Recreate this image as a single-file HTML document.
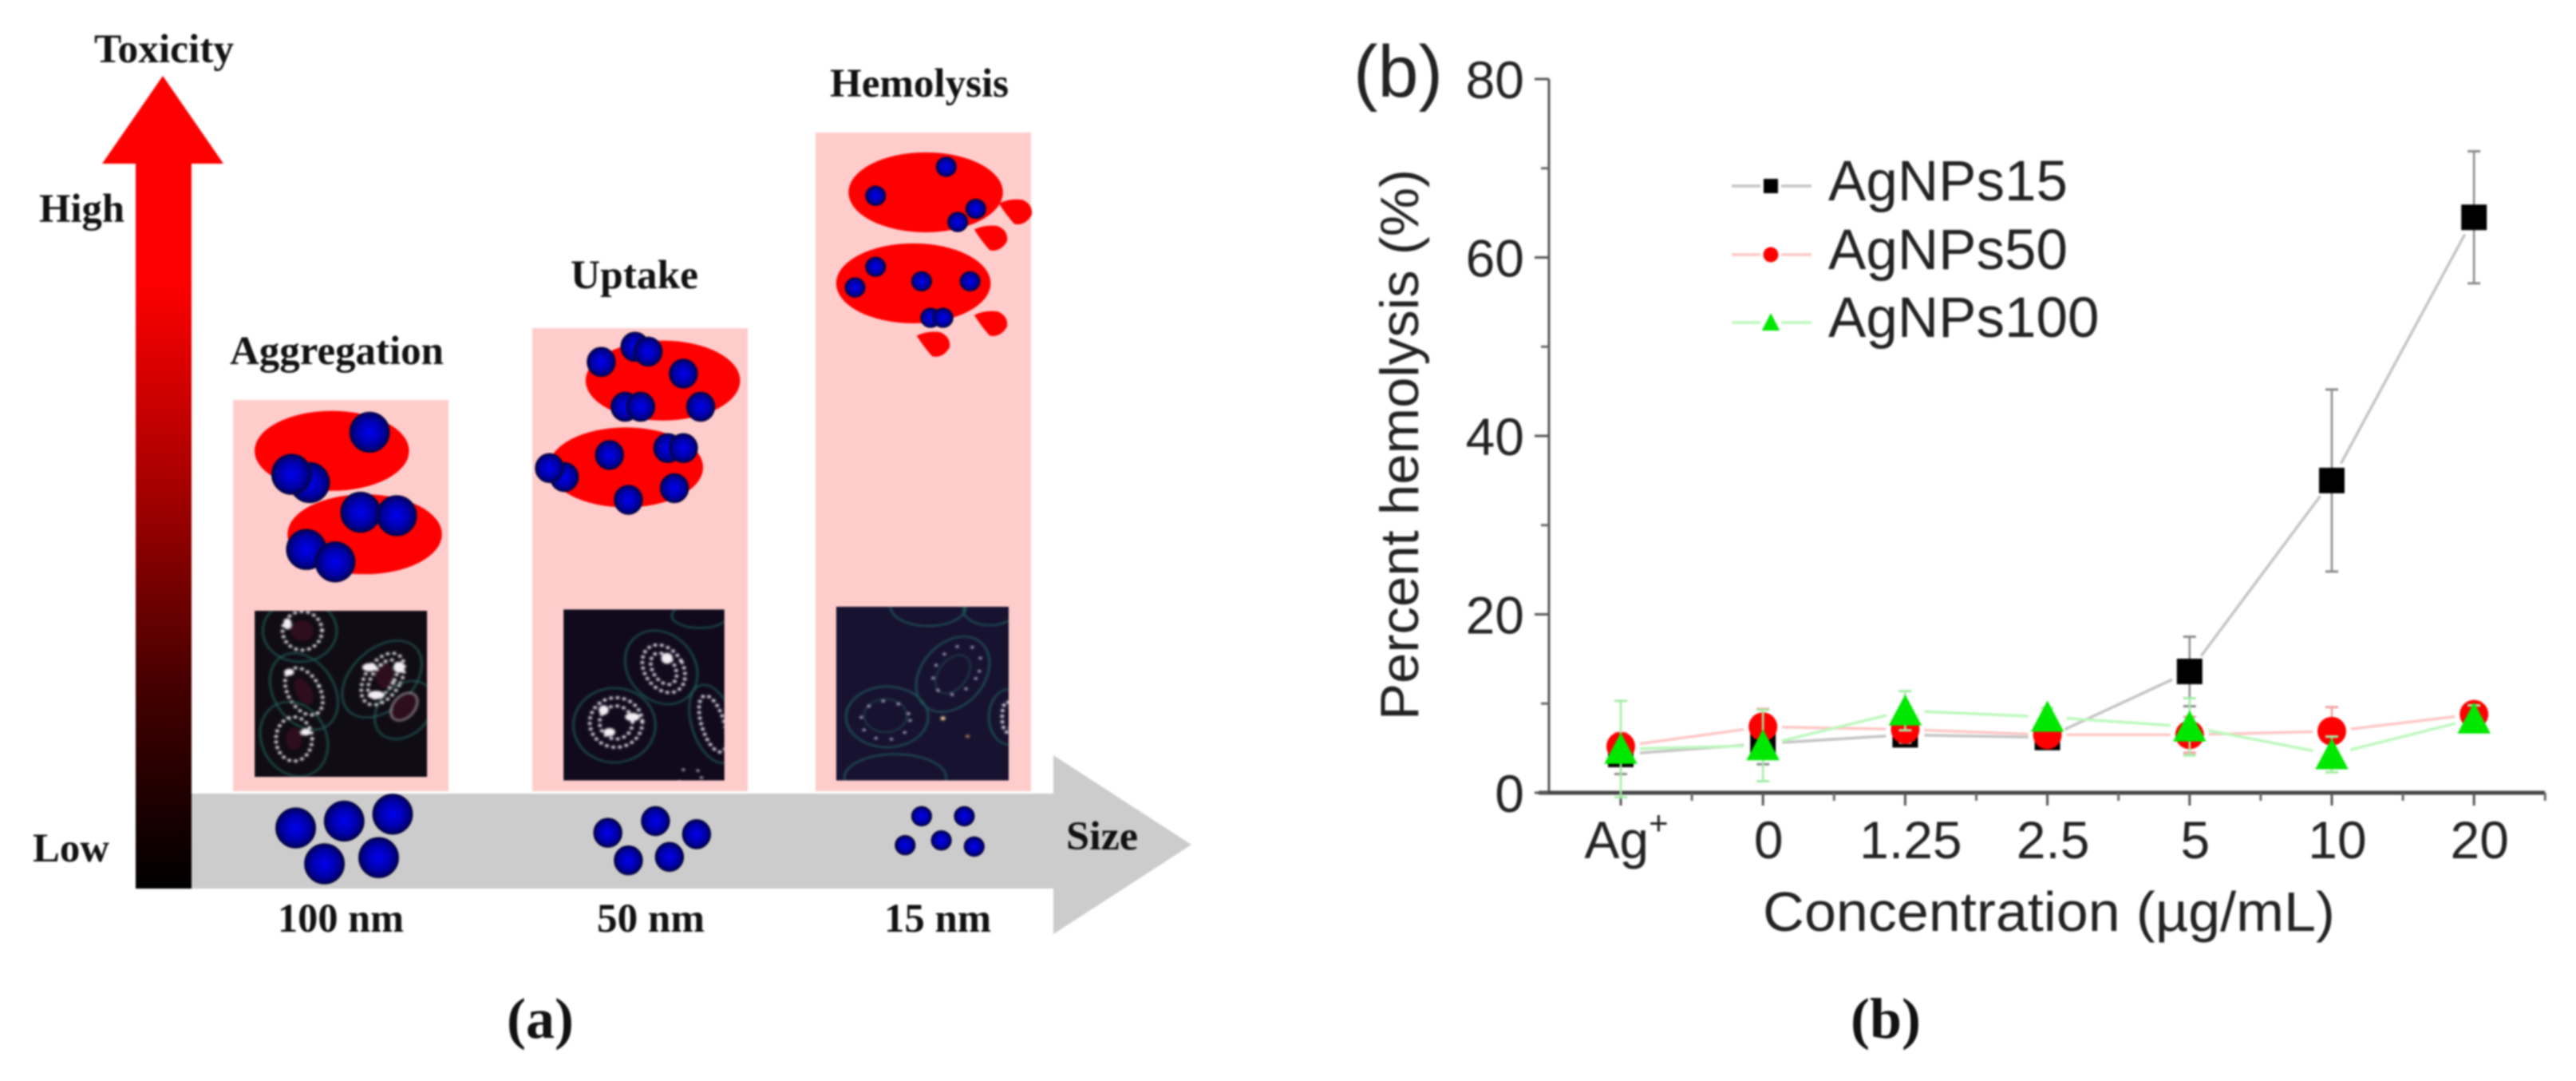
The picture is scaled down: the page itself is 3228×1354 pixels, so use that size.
<!DOCTYPE html>
<html lang="en">
<head>
<meta charset="utf-8">
<title>Silver nanoparticle toxicity and hemolysis</title>
<style>
html,body{margin:0;padding:0;background:#fff;}
svg#figure{display:block;width:3228px;height:1354px;filter:blur(1.1px);}
.lbl{font-family:"Liberation Serif",serif;font-weight:bold;fill:#111;font-size:51px;}
.cap{font-family:"Liberation Serif",serif;font-weight:bold;fill:#111;font-size:72px;text-anchor:middle;}
.sans{font-family:"Liberation Sans",sans-serif;fill:#222;}
.b{rx:24px;ry:29px;fill:url(#sphere);stroke:#0a0a3a;stroke-width:1.5;}
.m{rx:17px;ry:21px;fill:url(#sphere);stroke:#0a0a3a;stroke-width:1.5;}
.t{rx:12px;ry:14px;fill:url(#sphere);stroke:#0a0a3a;stroke-width:1.5;}
.rbc{fill:#ff0000;rx:94px;ry:58px;}
.c{fill:none;stroke:#235f5a;stroke-width:2;}
.d{fill:none;stroke:#eeeef4;stroke-width:4.5;stroke-linecap:round;stroke-dasharray:.1 8;}
.d2{fill:none;stroke:#cfcfe8;stroke-width:3.5;stroke-linecap:round;stroke-dasharray:.1 19;}
.n{fill:#2e0a1c;}
.p{fill:#f2eef4;}
</style>
</head>
<body>
<svg id="figure" xmlns="http://www.w3.org/2000/svg" width="3228" height="1354" viewBox="0 0 3228 1354">
<defs>
  <linearGradient id="toxGrad" x1="0" y1="0" x2="0" y2="1">
    <stop offset="0" stop-color="#ff0000"/>
    <stop offset=".25" stop-color="#ff0000"/>
    <stop offset=".5" stop-color="#a80000"/>
    <stop offset=".75" stop-color="#450000"/>
    <stop offset="1" stop-color="#000000"/>
  </linearGradient>
  <radialGradient id="sphere" cx=".5" cy=".5" r=".5">
    <stop offset="0" stop-color="#0000f0"/>
    <stop offset=".65" stop-color="#0000a8"/>
    <stop offset="1" stop-color="#00005a"/>
  </radialGradient>
  <filter id="mblur" x="-5%" y="-5%" width="110%" height="110%"><feGaussianBlur stdDeviation="1.2"/></filter>
  <clipPath id="mc1"><rect x="310" y="886" width="210" height="241"/></clipPath>
  <clipPath id="mc2"><rect x="686" y="884" width="196" height="248"/></clipPath>
  <clipPath id="mc3"><rect x="1018" y="880" width="210" height="252"/></clipPath>
</defs>

<g id="panel-a">
  <polygon fill="#cccccc" points="240,994 1320,994 1320,946 1493,1058 1320,1170 1320,1113 240,1113"/>
  <polygon fill="url(#toxGrad)" points="170,1113 170,205 128,205 204,95 280,205 240,205 240,1113"/>
  <rect x="292" y="501" width="270" height="490" fill="#ffcccc"/>
  <rect x="667" y="411" width="270" height="580" fill="#ffcccc"/>
  <rect x="1022" y="166" width="270" height="825" fill="#ffcccc"/>

  <g transform="matrix(1.0293 0 0 .8635 0 0)">
    <g>
      <ellipse class="rbc" cx="404" cy="654"/>
      <ellipse class="rbc" cx="444" cy="775"/>
      <ellipse class="b" cx="450" cy="627"/>
      <ellipse class="b" cx="377" cy="700"/>
      <ellipse class="b" cx="355" cy="688"/>
      <ellipse class="b" cx="439" cy="743"/>
      <ellipse class="b" cx="483" cy="748"/>
      <ellipse class="b" cx="373" cy="797"/>
      <ellipse class="b" cx="408" cy="815"/>
    </g>
    <g>
      <ellipse class="rbc" cx="807" cy="552"/>
      <ellipse class="rbc" cx="762" cy="678"/>
      <ellipse class="m" cx="732" cy="525"/>
      <ellipse class="m" cx="773" cy="503"/>
      <ellipse class="m" cx="789" cy="510"/>
      <ellipse class="m" cx="832" cy="542"/>
      <ellipse class="m" cx="761" cy="590"/>
      <ellipse class="m" cx="780" cy="590"/>
      <ellipse class="m" cx="853" cy="590"/>
      <ellipse class="m" cx="687" cy="692"/>
      <ellipse class="m" cx="669" cy="679"/>
      <ellipse class="m" cx="742" cy="660"/>
      <ellipse class="m" cx="813" cy="650"/>
      <ellipse class="m" cx="832" cy="650"/>
      <ellipse class="m" cx="821" cy="708"/>
      <ellipse class="m" cx="765" cy="725"/>
    </g>
    <g>
      <ellipse class="rbc" cx="1127" cy="279"/>
      <ellipse class="rbc" cx="1112" cy="411"/>
      <path fill="#f00" d="M1186 333Q1200 325 1215 328Q1228 335 1226 350Q1218 366 1205 363Q1195 350 1186 333Z"/>
      <path fill="#f00" transform="translate(30,-38)" d="M1186 333Q1200 325 1215 328Q1228 335 1226 350Q1218 366 1205 363Q1195 350 1186 333Z"/>
      <path fill="#f00" transform="translate(0,124)" d="M1186 333Q1200 325 1215 328Q1228 335 1226 350Q1218 366 1205 363Q1195 350 1186 333Z"/>
      <path fill="#f00" transform="translate(-70,154)" d="M1186 333Q1200 325 1215 328Q1228 335 1226 350Q1218 366 1205 363Q1195 350 1186 333Z"/>
      <ellipse class="t" cx="1152" cy="242"/>
      <ellipse class="t" cx="1066" cy="284"/>
      <ellipse class="t" cx="1188" cy="303"/>
      <ellipse class="t" cx="1166" cy="322"/>
      <ellipse class="t" cx="1041" cy="417"/>
      <ellipse class="t" cx="1066" cy="387"/>
      <ellipse class="t" cx="1122" cy="408"/>
      <ellipse class="t" cx="1181" cy="408"/>
      <ellipse class="t" cx="1133" cy="461"/>
      <ellipse class="t" cx="1148" cy="461"/>
    </g>

    <g clip-path="url(#mc1)">
      <rect x="310" y="886" width="210" height="241" fill="#100c14"/>
      <g filter="url(#mblur)">
      <ellipse class="c" cx="365" cy="915" rx="45" ry="45"/>
      <ellipse class="n" cx="368" cy="915" rx="14" ry="15"/>
      <ellipse class="d" cx="368" cy="915" rx="24" ry="28"/>
      <ellipse class="c" cx="370" cy="1003" rx="38" ry="58" transform="rotate(-22 370 1003)"/>
      <ellipse class="n" cx="370" cy="1003" rx="10" ry="20" transform="rotate(-22 370 1003)"/>
      <ellipse class="d" cx="370" cy="1003" rx="20" ry="36" transform="rotate(-22 370 1003)"/>
      <ellipse class="c" cx="358" cy="1072" rx="40" ry="55" transform="rotate(-15 358 1072)"/>
      <ellipse class="n" cx="358" cy="1072" rx="10" ry="16"/>
      <ellipse class="d" cx="358" cy="1072" rx="22" ry="32"/>
      <ellipse class="c" cx="465" cy="985" rx="40" ry="62" transform="rotate(35 465 985)"/>
      <ellipse class="n" cx="468" cy="980" rx="11" ry="18"/>
      <ellipse class="d" cx="466" cy="985" rx="22" ry="40" transform="rotate(25 466 985)"/>
      <ellipse class="d" cx="466" cy="985" rx="14" ry="30" transform="rotate(25 466 985)"/>
      <ellipse class="c" cx="492" cy="1030" rx="32" ry="45" transform="rotate(30 492 1030)"/>
      <ellipse class="n" cx="492" cy="1025" rx="12" ry="20" transform="rotate(30 492 1025)"/>
      <ellipse cx="492" cy="1025" rx="14" ry="22" transform="rotate(30 492 1025)" fill="none" stroke="#a08a94" stroke-width="2"/>
      <ellipse class="p" cx="450" cy="968" rx="9" ry="6"/>
      <ellipse class="p" cx="486" cy="968" rx="7" ry="8"/>
      <ellipse class="p" cx="458" cy="1008" rx="10" ry="6"/>
      <ellipse class="p" cx="350" cy="905" rx="5" ry="8"/>
      <ellipse class="p" cx="372" cy="1062" rx="6" ry="5"/>
      <ellipse class="p" cx="352" cy="975" rx="6" ry="5"/>
      </g>
    </g>
    <g clip-path="url(#mc2)">
      <rect x="686" y="884" width="196" height="248" fill="#100a1c"/>
      <g filter="url(#mblur)">
      <ellipse class="c" cx="805" cy="968" rx="42" ry="55" transform="rotate(-22 805 968)"/>
      <ellipse class="d" cx="808" cy="970" rx="24" ry="36" transform="rotate(-22 808 970)"/>
      <ellipse class="d" cx="808" cy="970" rx="14" ry="24" transform="rotate(-22 808 970)"/>
      <ellipse class="c" cx="748" cy="1052" rx="50" ry="54"/>
      <ellipse class="d" cx="750" cy="1048" rx="32" ry="36"/>
      <ellipse class="d" cx="750" cy="1048" rx="20" ry="24"/>
      <ellipse class="c" cx="868" cy="1050" rx="26" ry="58" transform="rotate(-14 868 1050)"/>
      <ellipse class="d" cx="868" cy="1050" rx="14" ry="42" transform="rotate(-14 868 1050)"/>
      <ellipse class="c" cx="852" cy="893" rx="34" ry="18"/>
      <ellipse class="d2" cx="840" cy="1128" rx="14" ry="14"/>
      <ellipse class="p" cx="770" cy="1040" rx="9" ry="6"/>
      <ellipse class="p" cx="742" cy="1062" rx="7" ry="6"/>
      <ellipse class="p" cx="735" cy="1030" rx="6" ry="7"/>
      <ellipse class="p" cx="812" cy="955" rx="7" ry="8"/>
      </g>
    </g>
    <g clip-path="url(#mc3)">
      <rect x="1018" y="880" width="210" height="252" fill="#171230"/>
      <g filter="url(#mblur)">
      <ellipse class="c" cx="1160" cy="978" rx="40" ry="58" transform="rotate(28 1160 978)"/>
      <ellipse class="c" cx="1160" cy="978" rx="18" ry="30" transform="rotate(28 1160 978)" opacity=".6"/>
      <ellipse class="d2" cx="1165" cy="972" rx="26" ry="38" transform="rotate(28 1165 972)"/>
      <ellipse class="c" cx="1080" cy="1040" rx="50" ry="44"/>
      <ellipse class="c" cx="1078" cy="1038" rx="26" ry="24" opacity=".6"/>
      <ellipse class="d2" cx="1078" cy="1045" rx="30" ry="28"/>
      <ellipse class="c" cx="1228" cy="1040" rx="24" ry="40"/>
      <ellipse class="d" cx="1226" cy="1040" rx="6" ry="22"/>
      <ellipse class="c" cx="1090" cy="1128" rx="62" ry="34"/>
      <ellipse class="c" cx="1130" cy="880" rx="46" ry="28"/>
      <ellipse class="c" cx="1205" cy="885" rx="32" ry="22"/>
      <circle cx="1148" cy="1042" r="3" fill="#e8c890"/>
      <circle cx="1178" cy="1068" r="2.5" fill="#a07850"/>
      </g>
    </g>

    <g>
      <ellipse class="b" cx="360" cy="1201"/>
      <ellipse class="b" cx="419" cy="1191"/>
      <ellipse class="b" cx="478" cy="1181"/>
      <ellipse class="b" cx="395" cy="1253"/>
      <ellipse class="b" cx="461" cy="1244"/>
    </g>
    <g>
      <ellipse class="m" cx="740" cy="1208"/>
      <ellipse class="m" cx="798" cy="1191"/>
      <ellipse class="m" cx="848" cy="1210"/>
      <ellipse class="m" cx="765" cy="1248"/>
      <ellipse class="m" cx="815" cy="1243"/>
    </g>
    <g>
      <ellipse class="t" cx="1122" cy="1184"/>
      <ellipse class="t" cx="1174" cy="1184"/>
      <ellipse class="t" cx="1102" cy="1226"/>
      <ellipse class="t" cx="1146" cy="1219"/>
      <ellipse class="t" cx="1186" cy="1228"/>
    </g>
  </g>

  <text class="lbl" x="118" y="78" textLength="175" lengthAdjust="spacingAndGlyphs">Toxicity</text>
  <text class="lbl" x="49" y="278" textLength="107" lengthAdjust="spacingAndGlyphs">High</text>
  <text class="lbl" x="41" y="1079" textLength="96" lengthAdjust="spacingAndGlyphs">Low</text>
  <text class="lbl" x="288" y="456" textLength="268" lengthAdjust="spacingAndGlyphs">Aggregation</text>
  <text class="lbl" x="715" y="361" textLength="160" lengthAdjust="spacingAndGlyphs">Uptake</text>
  <text class="lbl" x="1040" y="121" textLength="224" lengthAdjust="spacingAndGlyphs">Hemolysis</text>
  <text class="lbl" x="1336" y="1064" textLength="90" lengthAdjust="spacingAndGlyphs">Size</text>
  <text class="lbl" x="348" y="1167" textLength="158" lengthAdjust="spacingAndGlyphs">100 nm</text>
  <text class="lbl" x="748" y="1167" textLength="135" lengthAdjust="spacingAndGlyphs">50 nm</text>
  <text class="lbl" x="1108" y="1167" textLength="134" lengthAdjust="spacingAndGlyphs">15 nm</text>
  <text class="cap" x="677" y="1300">(a)</text>
</g>

<text class="cap" x="2363" y="1300">(b)</text>
<text class="sans" x="1696" y="121" font-size="92" textLength="112" lengthAdjust="spacingAndGlyphs">(b)</text>

<g id="chart"></g>
</svg>

<script>
const categories = ["Ag+", "0", "1.25", "2.5", "5", "10", "20"];
const yTickLabels = [0, 20, 40, 60, 80];
const yMinorTicks = [10, 30, 50, 70];
const agnps15Values = [4.3, 5.5, 6.5, 6.2, 13.6, 35, 64.5];
const agnps15Errors = [2.2, 2.3, 1, 1, 3.9, 10.2, 7.4];
const agnps50Values = [5.2, 7.4, 7.1, 6.5, 6.5, 6.9, 8.8];
const agnps50Errors = [1.5, 2, 1.5, 1, 2, 2.7, 1];
const agnps100Values = [4.9, 5.3, 9.2, 8.5, 7.4, 4.3, 8.3];
const agnps100Errors = [5.4, 4, 2.2, 1, 3.2, 2, 1.5];
const seriesNames = ["AgNPs15", "AgNPs50", "AgNPs100"];

const SVGNS = "http://www.w3.org/2000/svg";
const chart = document.getElementById("chart");

function xScale(i) { return 2031 + i * 178.2; }
function yScale(v) { return 993 - v * 11.175; }

function node(tag, parent, attrs) {
  const el = document.createElementNS(SVGNS, tag);
  for (const k in attrs) el.setAttribute(k, attrs[k]);
  parent.appendChild(el);
  return el;
}

function drawMarker(parent, shape, cx, cy, size, fill) {
  let m;
  if (shape === "square") {
    m = node("rect", parent, { x: cx - size / 2, y: cy - size / 2, width: size, height: size, fill: fill });
  } else if (shape === "circle") {
    m = node("circle", parent, { cx: cx, cy: cy, r: size / 2, fill: fill });
  } else {
    const w = size * 0.56, h = size * 0.5;
    m = node("polygon", parent, { points: (cx - w) + "," + (cy + h) + " " + (cx + w) + "," + (cy + h) + " " + cx + "," + (cy - h - 2), fill: fill });
  }
  
  
  return m;
}

function drawAxes() {
  const axes = node("g", chart, {});
  
  

  const yAxis = node("line", axes, { x1: 1941, y1: yScale(80), x2: 1941, y2: 993, stroke: "#555", "stroke-width": 3 });
  
  

  const xAxis = node("line", axes, { x1: 1928, y1: 993, x2: 3189, y2: 993, stroke: "#444", "stroke-width": 5 });
  
  

  yTickLabels.forEach(function (v) {
    const t = node("line", axes, { x1: 1923, y1: yScale(v), x2: 1941, y2: yScale(v), stroke: "#555", "stroke-width": 3 });
    
    
    const l = node("text", axes, { x: 1910, y: yScale(v) + 24, "text-anchor": "end", "font-size": 66, class: "sans" });
    l.textContent = String(v);
    
    
  });
  yMinorTicks.forEach(function (v) {
    const t = node("line", axes, { x1: 1931, y1: yScale(v), x2: 1941, y2: yScale(v), stroke: "#666", "stroke-width": 3 });
    
    
  });
  categories.forEach(function (c, i) {
    const t = node("line", axes, { x1: xScale(i), y1: 993, x2: xScale(i), y2: 1009, stroke: "#555", "stroke-width": 3 });
    
    
    const mt = node("line", axes, { x1: xScale(i + 0.5), y1: 993, x2: xScale(i + 0.5), y2: 1003, stroke: "#666", "stroke-width": 3 });
    
    
    const l = node("text", axes, { x: xScale(i) + 7, y: 1075, "text-anchor": "middle", "font-size": 66, class: "sans" });
    if (c.endsWith("+")) {
      const base = node("tspan", l, {});
      base.textContent = c.slice(0, -1);
      const sup = node("tspan", l, { dy: -30, "font-size": 42 });
      sup.textContent = "+";
    } else {
      l.textContent = c;
    }
    
    
  });

  const yTitle = node("text", axes, { transform: "translate(1777,557) rotate(-90)", "text-anchor": "middle", "font-size": 68, class: "sans", textLength: 690, lengthAdjust: "spacingAndGlyphs" });
  yTitle.textContent = "Percent hemolysis (%)";
  
  

  const xTitle = node("text", axes, { x: 2209, y: 1166, "font-size": 70, class: "sans", textLength: 717, lengthAdjust: "spacingAndGlyphs" });
  xTitle.textContent = "Concentration (\u00b5g/mL)";
  
  
}

function drawSeries(name, values, errors, shape, size, fill, lineColor, errColor) {
  const g = node("g", chart, {});
  
  

  const gap = 24;
  values.forEach(function (v, i) {
    if (i === values.length - 1) return;
    const x0 = xScale(i), y0 = yScale(v), x1 = xScale(i + 1), y1 = yScale(values[i + 1]);
    const len = Math.hypot(x1 - x0, y1 - y0);
    const ux = (x1 - x0) / len, uy = (y1 - y0) / len;
    const seg = node("line", g, { x1: x0 + ux * gap, y1: y0 + uy * gap, x2: x1 - ux * gap, y2: y1 - uy * gap, stroke: lineColor, "stroke-width": 3.5 });
    
    
  });
  values.forEach(function (v, i) {
    const x = xScale(i);
    const hi = yScale(v + errors[i]), lo = yScale(v - errors[i]);
    const bar = node("line", g, { x1: x, y1: hi, x2: x, y2: lo, stroke: errColor, "stroke-width": 2.5 });
    
    
    const capT = node("line", g, { x1: x - 8, y1: hi, x2: x + 8, y2: hi, stroke: errColor, "stroke-width": 3 });
    
    
    const capB = node("line", g, { x1: x - 8, y1: lo, x2: x + 8, y2: lo, stroke: errColor, "stroke-width": 3 });
    
    
  });
  values.forEach(function (v, i) {
    drawMarker(g, shape, xScale(i), yScale(v), size, fill);
  });
}

function drawLegendEntry(name, cy, shape, size, fill, lineColor) {
  const g = node("g", chart, {});
  
  
  const a = node("line", g, { x1: 2170, y1: cy, x2: 2206, y2: cy, stroke: lineColor, "stroke-width": 3.5 });
  
  
  const b = node("line", g, { x1: 2232, y1: cy, x2: 2270, y2: cy, stroke: lineColor, "stroke-width": 3.5 });
  
  
  drawMarker(g, shape, 2219, cy, size, fill);
  const t = node("text", g, { x: 2291, y: cy + 18, "font-size": 71, class: "sans" });
  t.textContent = name;
  
  
}

drawAxes();
drawSeries(seriesNames[0], agnps15Values, agnps15Errors, "square", 32, "#000000", "#c4c4c4", "#8a8a8a");
drawSeries(seriesNames[1], agnps50Values, agnps50Errors, "circle", 36, "#ff0000", "#ffc6c6", "#f4a0a0");
drawSeries(seriesNames[2], agnps100Values, agnps100Errors, "triangle", 37, "#00e800", "#bcf8bc", "#a4eca4");
drawLegendEntry(seriesNames[0], 233, "square", 18, "#000000", "#c4c4c4");
drawLegendEntry(seriesNames[1], 319, "circle", 19, "#ff0000", "#ffc6c6");
drawLegendEntry(seriesNames[2], 404, "triangle", 20, "#00e800", "#bcf8bc");
</script>
</body>
</html>
